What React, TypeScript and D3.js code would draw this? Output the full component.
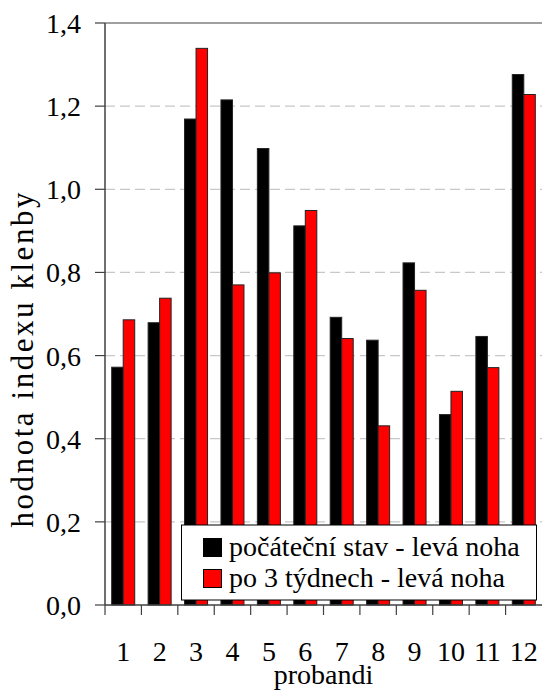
import React from "react";
import * as d3 from "d3";

const categories = ["1", "2", "3", "4", "5", "6", "7", "8", "9", "10", "11", "12"];
const seriesNames = ["počáteční stav - levá noha", "po 3 týdnech - levá noha"];
const initialValues = [0.572, 0.679, 1.169, 1.215, 1.098, 0.912, 0.692, 0.637, 0.823, 0.458, 0.646, 1.276];
const afterValues = [0.686, 0.738, 1.339, 0.770, 0.799, 0.949, 0.641, 0.431, 0.757, 0.514, 0.571, 1.228];
const yTicks = [0, 0.2, 0.4, 0.6, 0.8, 1.0, 1.2, 1.4];
const colors = ["#000000", "#ff0000"];

const W = 542;
const H = 695;
const left = 105;
const right = 542;
const top = 23;
const bottom = 605;
const font = '"Liberation Serif", "DejaVu Serif", serif';

export default function App() {
  const x = d3.scaleBand<string>().domain(categories).range([left, right]).padding(0);
  const bw = x.bandwidth();
  const inner = d3
    .scaleBand<number>()
    .domain([0, 1])
    .range([bw * 0.184, bw * 0.816])
    .padding(0);
  const y = d3.scaleLinear().domain([0, 1.4]).range([bottom, top]);
  const series = [initialValues, afterValues];
  const fmt = (v: number) => d3.format(".1f")(v).replace(".", ",");
  const ts = { fontFamily: font, fontSize: 28, fill: "#000" } as React.CSSProperties;

  return (
    <svg width={W} height={H} style={{ position: "absolute", left: 0, top: 0, background: "#fff" }}>
      {yTicks.slice(1, -1).map((t) => (
        <line key={"g" + t} x1={left} x2={right} y1={y(t)} y2={y(t)} stroke="#c8c8c8" strokeWidth={1.2} strokeDasharray="10,5" />
      ))}
      <line x1={left} x2={right} y1={y(1.4)} y2={y(1.4)} stroke="#808080" strokeWidth={1.5} />
      {series.map((vals, si) =>
        vals.map((v, i) => (
          <rect
            key={si + "-" + i}
            x={(x(categories[i]) as number) + (inner(si) as number)}
            y={y(v)}
            width={inner.bandwidth()}
            height={bottom - y(v)}
            fill={colors[si]}
            stroke="#222"
            strokeWidth={1}
          />
        ))
      )}
      <line x1={left} x2={left} y1={top} y2={bottom} stroke="#404040" strokeWidth={1.5} />
      {yTicks.map((t) => (
        <g key={"t" + t}>
          <line x1={left - 10} x2={left} y1={y(t)} y2={y(t)} stroke="#404040" strokeWidth={1.2} />
          <text x={81} y={y(t) + 10} textAnchor="end" style={ts}>
            {fmt(t)}
          </text>
        </g>
      ))}
      <line x1={left} x2={right} y1={bottom} y2={bottom} stroke="#404040" strokeWidth={1.5} />
      {categories.map((c, i) => (
        <line key={"xt" + i} x1={x(c) as number} x2={x(c) as number} y1={bottom} y2={bottom + 10} stroke="#404040" strokeWidth={1.2} />
      ))}
      {categories.map((c) => (
        <text key={"xl" + c} x={(x(c) as number) + bw / 2} y={661} textAnchor="middle" style={ts}>
          {c}
        </text>
      ))}
      <text x={(left + right) / 2} y={684} textAnchor="middle" style={ts}>
        probandi
      </text>
      <text
        transform={`translate(33, 360) rotate(-90)`}
        textAnchor="middle"
        style={{ ...ts, fontSize: 31 }}
        textLength={335}
        lengthAdjust="spacing"
      >
        hodnota indexu klenby
      </text>
      <rect x={181.5} y={525} width={355} height={75} fill="#fff" stroke="#000" strokeWidth={1} />
      {seriesNames.map((n, i) => (
        <g key={"lg" + i}>
          <rect x={203.5} y={538.5 + i * 31} width={18} height={18} fill={colors[i]} stroke="#000" strokeWidth={1} />
          <text x={229} y={556 + i * 31} style={ts}>
            {n}
          </text>
        </g>
      ))}
    </svg>
  );
}
